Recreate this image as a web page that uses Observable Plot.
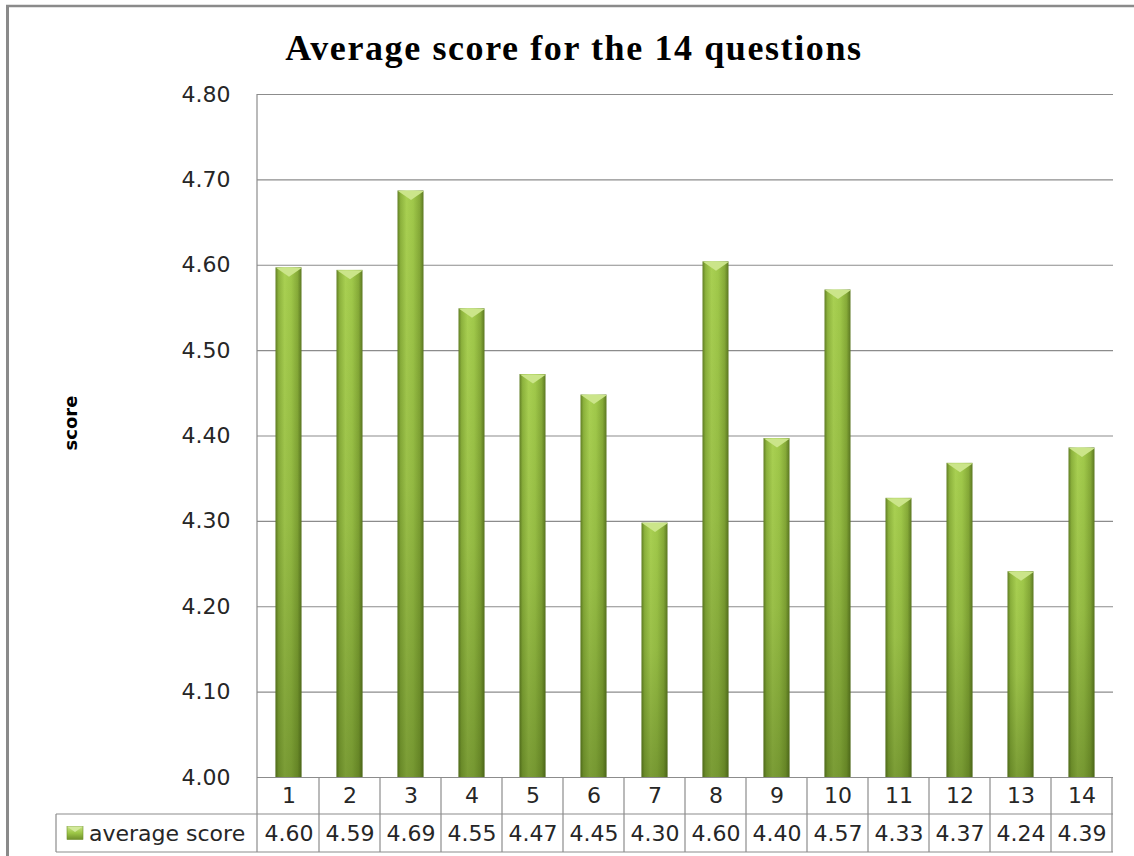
<!DOCTYPE html>
<html><head><meta charset="utf-8">
<script src="https://cdn.jsdelivr.net/npm/d3@7"></script>
<script src="https://cdn.jsdelivr.net/npm/@observablehq/plot@0.6"></script>
<style>body{margin:0;background:#fff}#chart svg{display:block}</style>
</head><body><div id="chart"></div>
<script>
const title = "Average score for the 14 questions";
const yLabel = "score";
const seriesName = "average score";
const questions = ["1","2","3","4","5","6","7","8","9","10","11","12","13","14"];
const scores = [4.597,4.594,4.687,4.549,4.472,4.448,4.298,4.604,4.397,4.571,4.327,4.368,4.241,4.386];
const yTicks = [4.00,4.10,4.20,4.30,4.40,4.50,4.60,4.70,4.80];

const data = questions.map((q, i) => ({q, v: scores[i]}));
const yMin = yTicks[0], yMax = yTicks[yTicks.length - 1];

const numFont = "DejaVu Sans, sans-serif";
const textColor = "#262626";
const lineColor = "#8c8c8c";
const numSize = 22;

const chevron = {draw(ctx) { ctx.moveTo(-13, 0); ctx.lineTo(13, 0); ctx.lineTo(0, 9); ctx.closePath(); }};

function decorations(index, scales, values, dims) {
  const g = d3.create("svg:g");
  const defs = g.append("defs");
  const gh = defs.append("linearGradient").attr("id", "barGradH").attr("x1", 0).attr("x2", 1).attr("y1", 0).attr("y2", 0);
  [[0, "#627f25"], [0.12, "#8db33d"], [0.35, "#a9d052"], [0.6, "#a0c84a"], [0.85, "#86aa38"], [1, "#5c7822"]]
    .forEach(([o, c]) => gh.append("stop").attr("offset", o).attr("stop-color", c));
  const gv = defs.append("linearGradient").attr("id", "barGradV").attr("x1", 0).attr("x2", 0).attr("y1", 0).attr("y2", 1);
  [[0, 0], [0.5, 0.12], [1, 0.38]]
    .forEach(([o, a]) => gv.append("stop").attr("offset", o).attr("stop-color", "#2f4708").attr("stop-opacity", a));
  const gk = defs.append("linearGradient").attr("id", "keyGrad").attr("x1", 0).attr("x2", 0).attr("y1", 0).attr("y2", 1);
  [[0, "#c8e283"], [0.5, "#9cc646"], [1, "#6f8f2c"]]
    .forEach(([o, c]) => gk.append("stop").attr("offset", o).attr("stop-color", c));

  const x = scales.x, bw = x.bandwidth();
  const L = dims.marginLeft, R = dims.width - dims.marginRight;
  const T = dims.marginTop, B = dims.height - dims.marginBottom;
  const row1 = B + 37, row2 = B + 75;
  const legendLeft = 56;

  // outer chart border (left and top)
  g.append("line").attr("x1", 7.5).attr("x2", 7.5).attr("y1", 5).attr("y2", dims.height)
    .attr("stroke", "#8a8a8a").attr("stroke-width", 3);
  g.append("line").attr("x1", 6).attr("x2", dims.width).attr("y1", 6).attr("y2", 6)
    .attr("stroke", "#8a8a8a").attr("stroke-width", 2.5);

  // title
  g.append("text").attr("x", dims.width / 2 + 7).attr("y", 60).attr("text-anchor", "middle")
    .attr("font-family", "Liberation Serif, Times New Roman, serif").attr("font-weight", "bold")
    .attr("font-size", 36).attr("letter-spacing", 1.6).attr("fill", "#000").text(title);

  // y label
  g.append("text").attr("transform", `translate(70,423) rotate(-90)`).attr("text-anchor", "middle")
    .attr("dominant-baseline", "central").attr("font-family", numFont).attr("font-weight", "bold")
    .attr("font-size", 18).attr("fill", "#000").text(yLabel);

  // table lines
  const lines = g.append("g").attr("stroke", lineColor).attr("stroke-width", 1.2).attr("fill", "none");
  lines.append("line").attr("x1", L).attr("x2", L).attr("y1", T).attr("y2", row2);
  questions.forEach(q => {
    const xx = x(q) + bw;
    lines.append("line").attr("x1", xx).attr("x2", xx).attr("y1", B).attr("y2", row2);
  });
  lines.append("line").attr("x1", legendLeft).attr("x2", R).attr("y1", row1).attr("y2", row1);
  lines.append("line").attr("x1", legendLeft).attr("x2", R).attr("y1", row2).attr("y2", row2);
  lines.append("line").attr("x1", legendLeft).attr("x2", legendLeft).attr("y1", row1).attr("y2", row2);

  // legend key + name
  const cy = (row1 + row2) / 2;
  g.append("rect").attr("x", 67).attr("y", cy - 6.5).attr("width", 16).attr("height", 13)
    .attr("fill", "url(#keyGrad)").attr("stroke", "#6f8f2c").attr("stroke-width", 0.6);
  g.append("path").attr("d", `M67,${cy - 6.5} L75,${cy - 1} L83,${cy - 6.5} Z`).attr("fill", "#d2e99a");
  g.append("text").attr("x", 89).attr("y", cy).attr("text-anchor", "start").attr("dominant-baseline", "central")
    .attr("font-family", numFont).attr("font-size", numSize).attr("fill", textColor).text(seriesName);
  return g.node();
}

const chart = Plot.plot({
  width: 1134,
  height: 856,
  marginLeft: 257,
  marginRight: 21,
  marginTop: 94,
  marginBottom: 79,
  style: {background: "#fff", overflow: "visible"},
  x: {type: "band", domain: questions, padding: 0, axis: null},
  y: {domain: [yMin, yMax], ticks: yTicks, label: null},
  marks: [
    Plot.gridY(yTicks, {stroke: lineColor, strokeOpacity: 1, strokeWidth: 1.2}),
    Plot.axisY(yTicks, {tickSize: 0, tickPadding: 27, tickFormat: d => d.toFixed(2), fontSize: numSize,
      fontFamily: numFont, fill: textColor, label: null}),
    Plot.barY(data, {x: "q", y1: () => yMin, y2: "v", fill: "url(#barGradH)", insetLeft: 17.5, insetRight: 17.5}),
    Plot.barY(data, {x: "q", y1: () => yMin, y2: "v", fill: "url(#barGradV)", insetLeft: 17.5, insetRight: 17.5}),
    Plot.dot(data, {x: "q", y: "v", symbol: chevron, r: 5, fill: "#cbe58a", stroke: "none"}),
    Plot.text(data, {x: "q", text: "q", frameAnchor: "bottom", dy: 18.5, lineAnchor: "middle",
      fontSize: numSize, fontFamily: numFont, fill: textColor}),
    Plot.text(data, {x: "q", text: d => d.v.toFixed(2), frameAnchor: "bottom", dy: 56, lineAnchor: "middle",
      fontSize: numSize, fontFamily: numFont, fill: textColor}),
    decorations
  ]
});
document.getElementById("chart").append(chart);
</script>
</body></html>
